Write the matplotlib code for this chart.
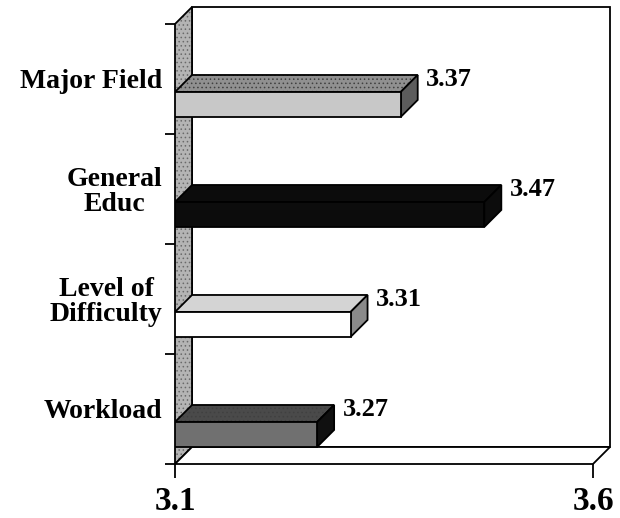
import matplotlib
matplotlib.use("Agg")
import matplotlib.pyplot as plt
from matplotlib.patches import Polygon

# data (top to bottom as in the picture)
categories = ["Major Field", "General\nEduc", "Level of\nDifficulty", "Workload"]
values = [3.37, 3.47, 3.31, 3.27]
x_ticks = [3.1, 3.6]

# face colours: front, top, side
front_cols = ["#c8c8c8", "#0c0c0c", "#ffffff", "#707070"]
top_cols = ["#909090", "#0c0c0c", "#d4d4d4", "#4a4a4a"]
side_cols = ["#5c5c5c", "#0c0c0c", "#8a8a8a", "#101010"]

plt.rcParams['font.family'] = ['Liberation Serif', 'DejaVu Serif']
plt.rcParams['font.weight'] = 'bold'
plt.rcParams['hatch.linewidth'] = 0.6

fig = plt.figure(figsize=(6.2, 5.18), dpi=100)
ax = fig.add_axes([175/620, 54/518, 418/620, 440/518])
xmin, xmax = 3.1, 3.6
n = len(categories)
ax.set_xlim(xmin, xmax)
ax.set_ylim(0, n)

# 3d depth in data units (about 17 px right and up)
DX = 17 / 418 * (xmax - xmin)
DY = 17 / 440 * n
lw = 1.3


def face(pts, fc, z, hatch=None, hc="#606060", clip=True):
    # fill (optionally stippled) then a black outline on top
    if hatch:
        ax.add_patch(Polygon(pts, closed=True, facecolor=fc, edgecolor=hc, hatch=hatch,
                             lw=0, clip_on=clip, zorder=z))
        fc = "none"
    ax.add_patch(Polygon(pts, closed=True, facecolor=fc, edgecolor="black", lw=lw,
                         clip_on=clip, zorder=z))


# back wall, left wall, floor
face([(xmin + DX, DY), (xmax + DX, DY), (xmax + DX, n + DY), (xmin + DX, n + DY)], "white", 1, clip=False)
face([(xmin, 0), (xmin, n), (xmin + DX, n + DY), (xmin + DX, DY)], "#b4b4b4", 2,
     hatch="....", hc="#6a6a6a", clip=False)
face([(xmin, 0), (xmax, 0), (xmax + DX, DY), (xmin + DX, DY)], "white", 2, clip=False)

# bars
hatches = ["....", None, None, "...."]
for i, (cat, v) in enumerate(zip(categories, values)):
    k = n - 1 - i
    y0, y1 = k + 0.155, k + 0.382
    face([(xmin, y1), (v, y1), (v + DX, y1 + DY), (xmin + DX, y1 + DY)], top_cols[i], 3,
         hatch=hatches[i], hc="#404040")
    face([(v, y0), (v + DX, y0 + DY), (v + DX, y1 + DY), (v, y1)], side_cols[i], 3)
    ax.barh((y0 + y1) / 2, v - xmin, height=y1 - y0, left=xmin,
            color=front_cols[i], edgecolor="black", lw=lw, zorder=4)
    ax.annotate(f"{v:.2f}", (v + DX, y1 + DY), xytext=(6, -3), textcoords="offset points",
                ha="left", va="center", fontsize=19, fontweight="bold", zorder=5)

for s in ax.spines.values():
    s.set_visible(False)

ax.set_yticks(range(n + 1))
ax.set_yticklabels([])
ax.set_yticks([n - 1 - i + 0.5 for i in range(n)], minor=True)
ax.set_yticklabels(categories, minor=True, fontsize=20, fontweight="bold",
                   ha="right", multialignment="center", linespacing=1.0)
ax.tick_params(axis="y", which="major", length=7, width=1.3, direction="out")
ax.tick_params(axis="y", which="minor", length=0, pad=9)

ax.set_xticks(x_ticks)
ax.set_xticklabels([f"{t:.1f}" for t in x_ticks], fontsize=24, fontweight="bold")
ax.tick_params(axis="x", length=10, width=1.3, direction="out", pad=6)

fig.savefig("out.png", dpi=100)
